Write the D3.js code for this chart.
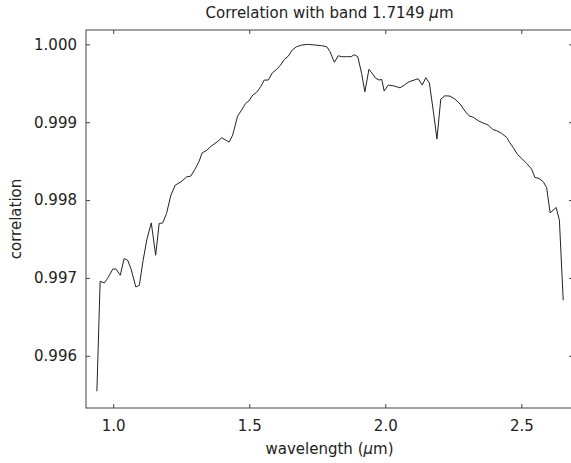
<!DOCTYPE html>
<html>
<head>
<meta charset="utf-8">
<script src="https://cdn.jsdelivr.net/npm/d3@7"></script>
<style>
  body { margin: 0; background: #fff; }
  svg text { font-family: "DejaVu Sans", sans-serif; fill: #222; }
</style>
</head>
<body>
<div id="chart"></div>
<script>
// wavelength (um) of each band
const wavelength = [
  0.940, 0.952, 0.967, 0.979, 0.998, 1.010, 1.026, 1.040, 1.053, 1.065,
  1.083, 1.096, 1.110, 1.124, 1.140, 1.156, 1.169, 1.182, 1.196, 1.212,
  1.228, 1.249, 1.270, 1.285, 1.300, 1.315, 1.327, 1.341, 1.362, 1.382,
  1.399, 1.414, 1.426, 1.439, 1.447, 1.457, 1.472, 1.487, 1.499, 1.513,
  1.527, 1.542, 1.555, 1.570, 1.585, 1.601, 1.615, 1.629, 1.643, 1.658,
  1.674, 1.693, 1.715, 1.742, 1.766, 1.785, 1.797, 1.813, 1.827, 1.840,
  1.858, 1.874, 1.886, 1.899, 1.913, 1.925, 1.940, 1.952, 1.965, 1.977,
  1.987, 1.996, 2.011, 2.029, 2.054, 2.070, 2.087, 2.106, 2.121, 2.136,
  2.149, 2.162, 2.176, 2.190, 2.204, 2.219, 2.238, 2.256, 2.275, 2.293,
  2.308, 2.324, 2.342, 2.363, 2.379, 2.395, 2.410, 2.428, 2.446, 2.458,
  2.471, 2.485, 2.501, 2.520, 2.538, 2.550, 2.565, 2.581, 2.593, 2.606,
  2.628, 2.640, 2.654
];

// correlation with the 1.7149 um band
const correlation = [
  0.995544, 0.996958, 0.996936, 0.996992, 0.997112, 0.997116, 0.997035, 0.997249, 0.997228, 0.997121,
  0.996884, 0.996906, 0.997228, 0.997498, 0.997707, 0.997292, 0.997699, 0.997707, 0.997828, 0.998063,
  0.998192, 0.998234, 0.998298, 0.998307, 0.998393, 0.998491, 0.998607, 0.998632, 0.998697, 0.998748,
  0.998800, 0.998770, 0.998744, 0.998834, 0.998941, 0.999078, 0.999156, 0.999242, 0.999275, 0.999348,
  0.999383, 0.999455, 0.999541, 0.999541, 0.999635, 0.999679, 0.999734, 0.999807, 0.999846, 0.999927,
  0.999969, 0.999991, 1.000000, 0.999991, 0.999982, 0.999969, 0.999905, 0.999769, 0.999853, 0.999841,
  0.999841, 0.999841, 0.999866, 0.999841, 0.999627, 0.999391, 0.999679, 0.999627, 0.999563, 0.999541,
  0.999550, 0.999400, 0.999477, 0.999468, 0.999442, 0.999477, 0.999519, 0.999541, 0.999558, 0.999477,
  0.999571, 0.999506, 0.999156, 0.998783, 0.999297, 0.999339, 0.999335, 0.999297, 0.999233, 0.999143,
  0.999082, 0.999062, 0.999018, 0.998985, 0.998963, 0.998907, 0.998890, 0.998856, 0.998805, 0.998735,
  0.998671, 0.998590, 0.998535, 0.998470, 0.998397, 0.998291, 0.998278, 0.998234, 0.998162, 0.997836,
  0.997905, 0.997742, 0.996713
];

const xTicks = [1.0, 1.5, 2.0, 2.5];
const yTicks = [0.996, 0.997, 0.998, 0.999, 1.000];

function init() {
    const w = 571;
    const h = 463;
    const left = 86, right = 573, top = 30, bottom = 408;

    const data = wavelength.map((d, i) => ({ wl: d, r: correlation[i] }));

    const xScale = d3.scaleLinear()
        .domain([0.9, 2.69])
        .range([left, right]);

    const yScale = d3.scaleLinear()
        .domain([0.99533, 1.000184])
        .range([bottom, top]);

    const svg = d3.select("#chart")
        .append("svg")
        .attr("width", w)
        .attr("height", h);

    // frame
    svg.append("rect")
        .attr("x", left)
        .attr("y", top)
        .attr("width", right - left)
        .attr("height", bottom - top)
        .attr("fill", "none")
        .attr("stroke", "#444")
        .attr("stroke-width", 1);

    // inward ticks on all four sides
    const styleAxis = g => {
        g.select(".domain").remove();
        g.selectAll(".tick line").attr("stroke", "#444");
        g.selectAll(".tick text")
            .attr("fill", "#222")
            .attr("font-size", "15px")
            .attr("font-family", "DejaVu Sans, sans-serif");
    };

    svg.append("g")
        .attr("transform", `translate(0,${bottom})`)
        .call(d3.axisBottom(xScale).tickValues(xTicks).tickFormat(d3.format(".1f"))
            .tickSize(-4).tickPadding(12))
        .call(styleAxis);

    svg.append("g")
        .attr("transform", `translate(0,${top})`)
        .call(d3.axisTop(xScale).tickValues(xTicks).tickFormat("").tickSize(-4))
        .call(styleAxis);

    svg.append("g")
        .attr("transform", `translate(${left},0)`)
        .call(d3.axisLeft(yScale).tickValues(yTicks).tickFormat(d3.format(".3f"))
            .tickSize(-4).tickPadding(9))
        .call(styleAxis);

    svg.append("g")
        .attr("transform", `translate(${right},0)`)
        .call(d3.axisRight(yScale).tickValues(yTicks).tickFormat("").tickSize(-4))
        .call(styleAxis);

    // the line
    const line = d3.line()
        .x(d => xScale(d.wl))
        .y(d => yScale(d.r));

    svg.append("path")
        .datum(data)
        .attr("fill", "none")
        .attr("stroke", "#222")
        .attr("stroke-width", 1)
        .attr("stroke-linejoin", "round")
        .attr("d", line);

    const midX = (left + right) / 2;

    // title
    const title = svg.append("text")
        .attr("x", midX)
        .attr("y", 18)
        .attr("text-anchor", "middle")
        .attr("font-size", "15px");
    title.append("tspan").text("Correlation with band 1.7149 ");
    title.append("tspan").attr("font-style", "italic").text("μ");
    title.append("tspan").text("m");

    // x label
    const xl = svg.append("text")
        .attr("x", midX)
        .attr("y", 454)
        .attr("text-anchor", "middle")
        .attr("font-size", "15px");
    xl.append("tspan").text("wavelength (");
    xl.append("tspan").attr("font-style", "italic").text("μ");
    xl.append("tspan").text("m)");

    // y label
    svg.append("text")
        .attr("transform", `translate(20.5,${(top + bottom) / 2}) rotate(-90)`)
        .attr("text-anchor", "middle")
        .attr("font-size", "15px")
        .text("correlation");
}

window.onload = init;
</script>
</body>
</html>
